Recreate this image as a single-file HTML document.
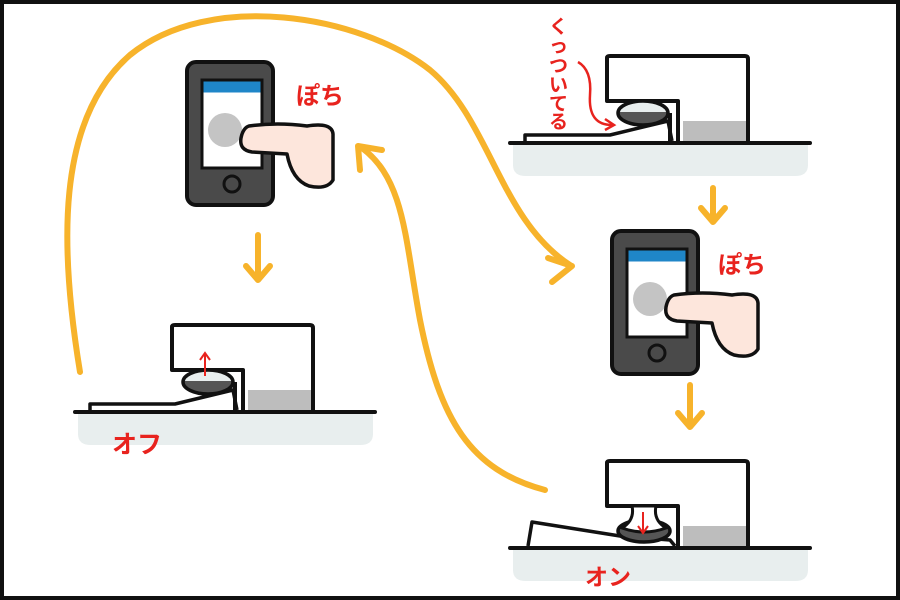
<!DOCTYPE html>
<html><head><meta charset="utf-8"><style>
html,body{margin:0;padding:0;background:#fff}
svg{display:block}
.t{font-family:"Liberation Sans","Noto Sans CJK JP",sans-serif;font-weight:bold;fill:#e8231e}
</style></head><body>
<svg width="900" height="600" viewBox="0 0 900 600" xmlns="http://www.w3.org/2000/svg">
<defs>
<g id="base">
  <path d="M3,0 H298 V22 Q298,33 285,33 H16 Q3,33 3,22 Z" fill="#e8eeee"/>
  <rect x="173" y="-22" width="63" height="20" fill="#bdbdbd"/>
  <path d="M168,0 V-42 H97 V-85 Q97,-87 100,-87 H235 Q238,-87 238,-84 V0" fill="none" stroke="#111" stroke-width="4" stroke-linejoin="round"/>
  <line x1="0" y1="0" x2="300" y2="0" stroke="#111" stroke-width="4" stroke-linecap="round"/>
</g>
<g id="phone">
  <rect x="0" y="0" width="86" height="143" rx="9" fill="#4a4a4a" stroke="#111" stroke-width="4"/>
  <rect x="15" y="18" width="60" height="88" fill="#fff" stroke="#111" stroke-width="3"/>
  <rect x="16.5" y="19.5" width="57" height="11" fill="#1f86c8"/>
  <circle cx="45" cy="122" r="8" fill="#4a4a4a" stroke="#111" stroke-width="3"/>
  <circle cx="38" cy="68" r="17" fill="#c4c4c4"/>
  <path d="M62,64 Q90,60 120,64 Q145,60 146,72 L146,118 Q140,128 122,124 Q105,118 100,92 L65,90 Q52,88 54,76 Q56,66 62,64 Z" fill="#fde6dc" stroke="#111" stroke-width="3.5" stroke-linejoin="round"/>
</g>
<g id="lever">
  <path d="M15,-2 V-8 L100,-8 L158,-22 L162,-2" fill="#fff" stroke="#111" stroke-width="3.5" stroke-linejoin="round"/>
  <line x1="160" y1="-30" x2="160" y2="-2" stroke="#111" stroke-width="4"/>
  <ellipse cx="133" cy="-30" rx="25" ry="12" fill="#555"/>
  <path d="M108,-31 A25,12 0 0 1 158,-31 Z" fill="#e8eeee"/>
  <ellipse cx="133" cy="-30" rx="25" ry="12" fill="none" stroke="#111" stroke-width="3.5"/>
</g>
</defs>
<rect x="2" y="2" width="896" height="596" fill="#fff" stroke="#111" stroke-width="4"/>

<g fill="none" stroke="#f7b32b" stroke-width="6" stroke-linecap="round" stroke-linejoin="round">
  <path d="M80,372 C60,250 55,120 130,55 C210,-10 360,15 430,70 C490,120 500,220 570,265"/>
  <path d="M548,258 L572,266 L552,282"/>
  <path d="M545,490 C470,470 440,420 420,320 C405,240 405,180 362,148"/>
  <path d="M360,170 L358,146 L382,150"/>
  <path d="M258,235 V278 M246,266 L258,280 L270,266"/>
  <path d="M713,188 V220 M701,208 L713,222 L725,208"/>
  <path d="M690,385 V425 M678,413 L690,427 L702,413"/>
</g>

<g transform="translate(75,412)">
  <use href="#base"/>
  <use href="#lever"/>
  <path d="M130,-36 V-58 M125,-52 L130,-59 L135,-52" stroke="#e8231e" stroke-width="2" fill="none"/>
</g>
<text class="t" x="112" y="453" font-size="25">オフ</text>

<g transform="translate(510,143)">
  <use href="#base"/>
  <use href="#lever"/>
</g>
<path d="M578,62 Q592,70 590,95 Q588,125 612,125" stroke="#e8231e" stroke-width="2.5" fill="none"/>
<path d="M605,119 L614,125 L605,130" stroke="#e8231e" stroke-width="2.5" fill="none"/>
<g class="t" font-size="19">
  <text x="549" y="33">く</text><text x="549" y="52">っ</text><text x="549" y="72">つ</text>
  <text x="549" y="91">い</text><text x="549" y="110">て</text><text x="549" y="128">る</text>
</g>

<g transform="translate(510,548)">
  <use href="#base"/>
  <path d="M18,-2 L22,-26 L110,-12 L160,-8 L165,-2" fill="#fff" stroke="#111" stroke-width="3.5" stroke-linejoin="round"/>
  <ellipse cx="134" cy="-17" rx="26" ry="11" fill="#555" stroke="#111" stroke-width="3.5"/>
  <path d="M122,-42 Q125,-28 112,-20 Q134,-12 156,-20 Q143,-28 146,-42 Z" fill="#fff" stroke="#111" stroke-width="3"/>
  <path d="M133,-36 V-16 M128,-22 L133,-15 L138,-22" stroke="#e8231e" stroke-width="2" fill="none"/>
</g>
<text class="t" x="585" y="585" font-size="23">オン</text>

<use href="#phone" transform="translate(187,62)"/>
<text class="t" x="296" y="104" font-size="24">ぽち</text>
<use href="#phone" transform="translate(612,231)"/>
<text class="t" x="718" y="273" font-size="24">ぽち</text>
</svg>
</body></html>
